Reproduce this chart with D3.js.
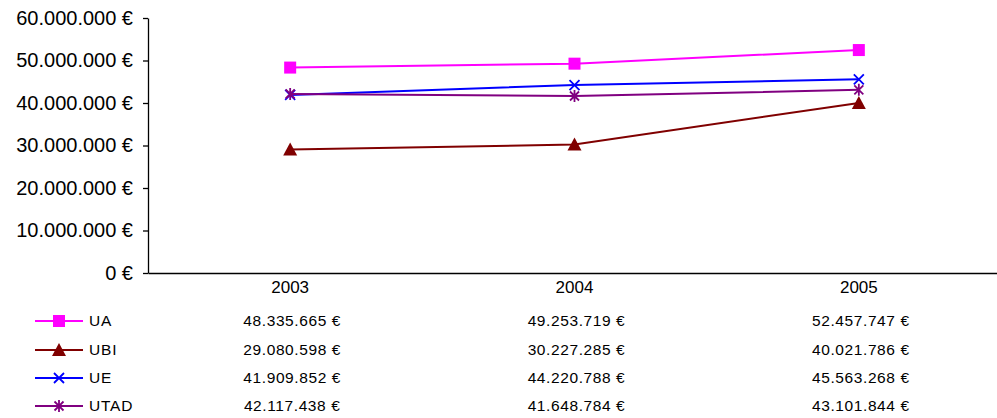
<!DOCTYPE html>
<html>
<head>
<meta charset="utf-8">
<script src="https://cdn.jsdelivr.net/npm/d3@7"></script>
<style>
  body { margin: 0; background: #fff; }
  svg { display: block; font-family: "Liberation Sans", Arial, sans-serif; }
</style>
</head>
<body>
<svg id="chart" width="997" height="418"></svg>
<script>
// chart data
const years = ["2003", "2004", "2005"];
const seriesNames = ["UA", "UBI", "UE", "UTAD"];
const valuesUA = [48335665, 49253719, 52457747];
const valuesUBI = [29080598, 30227285, 40021786];
const valuesUE = [41909852, 44220788, 45563268];
const valuesUTAD = [42117438, 41648784, 43101844];
const yTicks = [0, 10000000, 20000000, 30000000, 40000000, 50000000, 60000000];

const series = [
  { name: seriesNames[0], values: valuesUA, color: "#ff00ff", symbol: "square" },
  { name: seriesNames[1], values: valuesUBI, color: "#800000", symbol: "triangle" },
  { name: seriesNames[2], values: valuesUE, color: "#0000ff", symbol: "x" },
  { name: seriesNames[3], values: valuesUTAD, color: "#800080", symbol: "star" }
];

const svg = d3.select("#chart");
const PLOT = { LEFT: 148, RIGHT: 1001, TOP: 18, BOTTOM: 273 };

const locale = d3.formatLocale({ decimal: ",", thousands: ".", grouping: [3], currency: ["", " €"] });
const fmt = (v) => locale.format(",")(v) + " €";

const x = d3.scaleBand().domain(years).range([PLOT.LEFT, PLOT.RIGHT]);
const y = d3.scaleLinear().domain([0, 60000000]).range([PLOT.BOTTOM, PLOT.TOP]);
const cx = (yr) => x(yr) + x.bandwidth() / 2;

// **1. y axis**
const yAxis = svg.append("g")
  .attr("transform", `translate(${PLOT.LEFT},0)`)
  .call(d3.axisLeft(y).tickValues(yTicks).tickSize(5).tickSizeOuter(0).tickPadding(10).tickFormat(fmt));
yAxis.select(".domain").attr("stroke", "#000").attr("stroke-width", 1.3);
yAxis.selectAll("line").attr("stroke", "#000").attr("stroke-width", 1.3);
yAxis.selectAll("text").attr("font-size", 20).attr("fill", "#000").attr("font-family", "Liberation Sans, Arial, sans-serif");

// **2. x axis**
const xAxis = svg.append("g")
  .attr("transform", `translate(0,${PLOT.BOTTOM})`)
  .call(d3.axisBottom(x).tickSize(0).tickPadding(8));
xAxis.select(".domain").attr("stroke", "#000").attr("stroke-width", 1.3);
xAxis.selectAll("text").attr("font-size", 17).attr("fill", "#000").attr("font-family", "Liberation Sans, Arial, sans-serif");

// marker drawing helper
function drawMarker(g, sym, color, px, py) {
  if (sym === "square") {
    g.append("rect").attr("x", px - 6).attr("y", py - 6).attr("width", 12).attr("height", 12).attr("fill", color);
  } else if (sym === "triangle") {
    g.append("path").attr("d", `M${px},${py - 7}L${px + 7},${py + 6}L${px - 7},${py + 6}Z`).attr("fill", color);
  } else if (sym === "x") {
    g.append("path").attr("d", `M${px - 5},${py - 5}L${px + 5},${py + 5}M${px + 5},${py - 5}L${px - 5},${py + 5}`)
      .attr("stroke", color).attr("stroke-width", 1.8);
  } else {
    g.append("path").attr("d", `M${px - 4.5},${py - 4.5}L${px + 4.5},${py + 4.5}M${px + 4.5},${py - 4.5}L${px - 4.5},${py + 4.5}M${px},${py - 6}L${px},${py + 6}`)
      .attr("stroke", color).attr("stroke-width", 1.8);
  }
}

// **3. lines and markers**
const line = d3.line().x((d, i) => cx(years[i])).y((d) => y(d));
series.forEach((s) => {
  const g = svg.append("g");
  g.append("path").attr("d", line(s.values)).attr("fill", "none").attr("stroke", s.color).attr("stroke-width", 2);
  s.values.forEach((v, i) => drawMarker(g, s.symbol, s.color, cx(years[i]), y(v)));
});

// **4. data table with legend keys**
const ROW_Y = [321, 350, 378, 406];
series.forEach((s, r) => {
  const g = svg.append("g");
  const ry = ROW_Y[r];
  g.append("line").attr("x1", 35).attr("x2", 83).attr("y1", ry).attr("y2", ry).attr("stroke", s.color).attr("stroke-width", 2);
  drawMarker(g, s.symbol, s.color, 59, ry);
  g.append("text").attr("x", 89).attr("y", ry).attr("dy", "0.35em").attr("font-size", 15.5)
    .attr("letter-spacing", 0.8).text(s.name);
  s.values.forEach((v, i) => {
    g.append("text").attr("x", cx(years[i]) + 2).attr("y", ry).attr("dy", "0.35em")
      .attr("text-anchor", "middle").attr("font-size", 15.5).attr("letter-spacing", 0.6).text(fmt(v));
  });
});
</script>
</body>
</html>
